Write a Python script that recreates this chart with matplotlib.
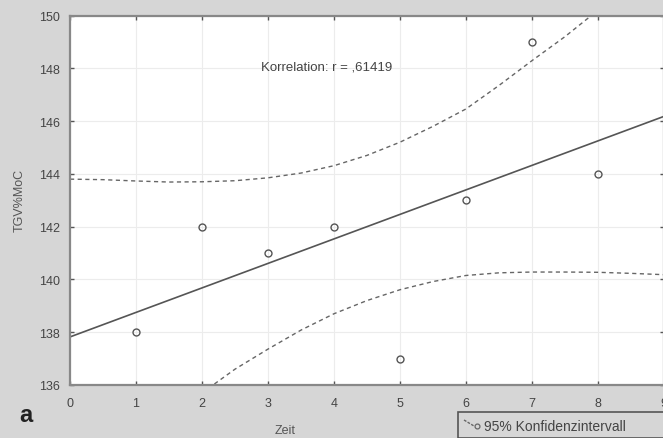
import matplotlib
matplotlib.use("Agg")
import matplotlib.pyplot as plt
import numpy as np
from matplotlib.lines import Line2D

plt.rcParams['font.family'] = ['Liberation Sans', 'DejaVu Sans']

# measured values
zeit = [1, 2, 3, 4, 5, 6, 7, 8]
tgv = [138, 142, 141, 142, 137, 143, 149, 144]

# confidence band
upper_x = [0, 0.5, 1, 1.5, 2, 2.5, 3, 3.5, 4, 4.5, 5, 5.5, 6, 6.5, 7, 7.5, 8]
upper_y = [143.80, 143.78, 143.73, 143.69, 143.70, 143.74, 143.85, 144.03, 144.31,
           144.70, 145.20, 145.80, 146.46, 147.35, 148.29, 149.20, 150.20]
lower_x = [2, 2.5, 3, 3.5, 4, 4.5, 5, 5.5, 6, 6.5, 7, 7.5, 8, 8.5, 9]
lower_y = [135.70, 136.60, 137.36, 138.08, 138.70, 139.20, 139.61, 139.92, 140.15,
           140.25, 140.28, 140.28, 140.27, 140.23, 140.18]

bg = '#d6d6d6'
fig = plt.figure(figsize=(6.63, 4.39), dpi=100, facecolor=bg)
ax = fig.add_axes([70 / 663, 53 / 439, 594 / 663, 369.5 / 439])
ax.set_facecolor('white')

# regression line
k, d = np.polyfit(zeit, tgv, 1)
xs = np.array([0, 9])
ax.plot(xs, k * xs + d, color='#555555', lw=1.2)
r = np.corrcoef(zeit, tgv)[0, 1]

ax.plot(upper_x, upper_y, color='#666666', lw=1.0, ls=(0, (3, 2.5)))
ax.plot(lower_x, lower_y, color='#666666', lw=1.0, ls=(0, (3, 2.5)))
ax.plot(zeit, tgv, 'o', mfc='none', mec='#555555', ms=5, mew=1.0)

ax.set_xlim(0, 9)
ax.set_ylim(136, 150)
ax.set_xticks(range(0, 10))
ax.set_yticks(range(136, 151, 2))
ax.grid(True, color='#ececec', lw=0.8)
for s in ax.spines.values():
    s.set_color('#888888')
    s.set_linewidth(1.6)
ax.tick_params(direction='in', length=3, width=1, color='#555555',
               labelsize=9, labelcolor='#444444', top=True, right=True, pad=7)
ax.tick_params(axis='x', pad=9)

ax.text(2.9, 148.05, 'Korrelation: r = ,' + f'{r:.5f}'[2:], fontsize=9.5,
        color='#444444', va='center')

fig.text(20 / 663, 1 - 200 / 439, 'TGV%MoC', rotation=90, fontsize=9,
         color='#555555', ha='center', va='center')
fig.text(285 / 663, 1 - 431 / 439, 'Zeit', fontsize=9, color='#555555',
         ha='center', va='center')
fig.text(26 / 663, 1 - 416 / 439, 'a', fontsize=17, fontweight='bold',
         color='#222222', ha='center', va='center')

# legend box
fig.add_artist(plt.Rectangle((458 / 663, 0), 210 / 663, 26 / 439,
                             transform=fig.transFigure, fill=False,
                             ec='#555555', lw=1.2))
fig.add_artist(Line2D([464 / 663, 474 / 663], [1 - 421 / 439, 1 - 427 / 439],
                      transform=fig.transFigure, color='#666666', lw=1.0,
                      ls=(0, (2, 1))))
fig.add_artist(Line2D([477 / 663], [1 - 427 / 439], transform=fig.transFigure,
                      marker='o', mfc='none', mec='#666666', ms=3.5, mew=0.9))
fig.text(484 / 663, 1 - 427 / 439, '95% Konfidenzintervall', fontsize=10,
         color='#444444', va='center')

fig.savefig('out.png', dpi=100, facecolor=bg)
